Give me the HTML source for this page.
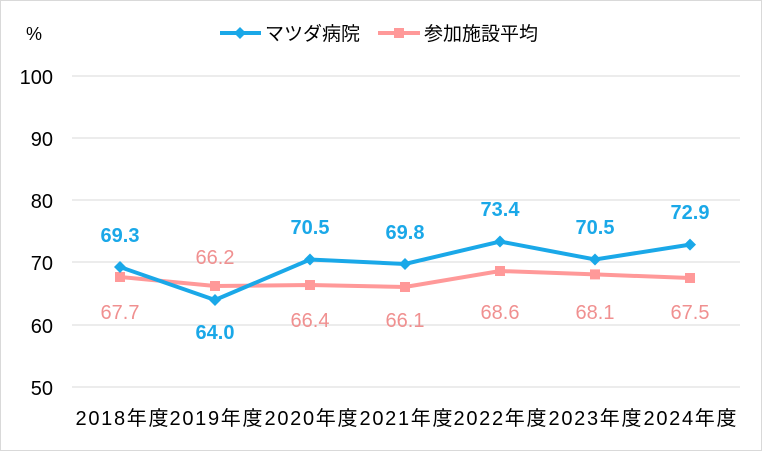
<!DOCTYPE html><html><head><style>body{margin:0;background:#fff}svg{display:block}text{font-family:"Liberation Sans","Noto Sans CJK JP",sans-serif}</style></head><body>
<svg width="762" height="451" viewBox="0 0 762 451">
<rect x="0.5" y="0.5" width="761" height="450" fill="#fff" stroke="#d9d9d9"/>
<g stroke="#d9d9d9" stroke-width="1">
<line x1="72" x2="740" y1="76" y2="76"/><line x1="72" x2="740" y1="138" y2="138"/><line x1="72" x2="740" y1="200" y2="200"/><line x1="72" x2="740" y1="262" y2="262"/><line x1="72" x2="740" y1="325" y2="325"/><line x1="72" x2="740" y1="387" y2="387"/></g>
<g font-size="20" fill="#000" text-anchor="end">
<text x="53" y="84">100</text><text x="53" y="146">90</text><text x="53" y="208">80</text><text x="53" y="270">70</text><text x="53" y="333">60</text><text x="53" y="395">50</text></g>
<text x="26" y="40" font-size="18">%</text>
<g font-size="20" fill="#000" text-anchor="middle" lengthAdjust="spacingAndGlyphs">
<text x="122" y="425" textLength="93">2018年度</text><text x="216" y="425" textLength="93">2019年度</text><text x="311" y="425" textLength="93">2020年度</text><text x="406" y="425" textLength="93">2021年度</text><text x="500" y="425" textLength="93">2022年度</text><text x="595" y="425" textLength="93">2023年度</text><text x="690" y="425" textLength="93">2024年度</text></g>
<polyline fill="none" stroke="#ff9999" stroke-width="4" points="120,277 215,286 310,285 405,287 500,271 595,274.4 690,278"/>
<g fill="#ff9999"><rect x="115" y="272" width="10" height="10"/><rect x="210" y="281" width="10" height="10"/><rect x="305" y="280" width="10" height="10"/><rect x="400" y="282" width="10" height="10"/><rect x="495" y="266" width="10" height="10"/><rect x="590" y="269.4" width="10" height="10"/><rect x="685" y="273" width="10" height="10"/></g>
<polyline fill="none" stroke="#1aa8e8" stroke-width="4" points="120,267 215,300 310,259.5 405,264 500,241.5 595,259.5 690,244.6"/>
<g fill="#1aa8e8"><path d="M120 261l6 6-6 6-6-6z"/><path d="M215 294l6 6-6 6-6-6z"/><path d="M310 253.5l6 6-6 6-6-6z"/><path d="M405 258l6 6-6 6-6-6z"/><path d="M500 235.5l6 6-6 6-6-6z"/><path d="M595 253.5l6 6-6 6-6-6z"/><path d="M690 238.6l6 6-6 6-6-6z"/></g>
<g font-size="20" font-weight="bold" fill="#1aa8e8" text-anchor="middle">
<text x="120" y="242">69.3</text><text x="215" y="339">64.0</text><text x="310" y="234">70.5</text><text x="405" y="239">69.8</text><text x="500" y="216">73.4</text><text x="595" y="234">70.5</text><text x="690" y="219">72.9</text></g>
<g font-size="20" fill="#f09090" text-anchor="middle">
<text x="120" y="319">67.7</text><text x="215" y="264">66.2</text><text x="310" y="327">66.4</text><text x="405" y="327">66.1</text><text x="500" y="319">68.6</text><text x="595" y="319">68.1</text><text x="690" y="319">67.5</text></g>
<line x1="220" x2="261" y1="33" y2="33" stroke="#1aa8e8" stroke-width="4"/><path d="M240 27l6 6-6 6-6-6z" fill="#1aa8e8"/>
<text x="265" y="40" font-size="19">マツダ病院</text>
<line x1="378" x2="420" y1="33" y2="33" stroke="#ff9999" stroke-width="4"/><rect x="394" y="28" width="10" height="10" fill="#ff9999"/>
<text x="424" y="40" font-size="19">参加施設平均</text>
</svg></body></html>
